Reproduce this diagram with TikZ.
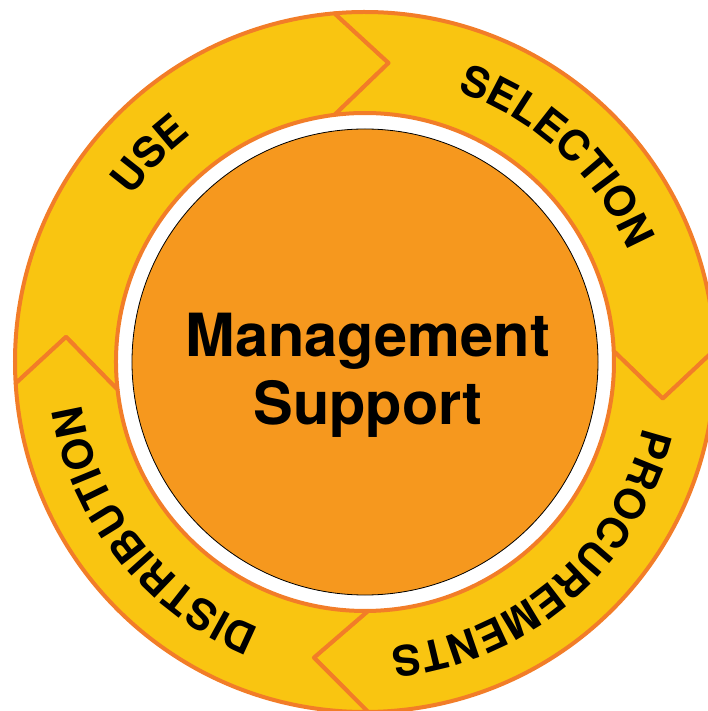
\documentclass[tikz,border=0pt]{standalone}
\usepackage{fontspec}
\setmainfont{TeX Gyre Heros}
\usetikzlibrary{decorations.text}
\definecolor{ringyellow}{RGB}{249,197,17}
\definecolor{ringorange}{RGB}{242,125,40}
\definecolor{coreorange}{RGB}{246,152,30}
\tikzset{
  arrowseg/.style={fill=ringyellow,draw=ringorange,line width=4pt,line join=round},
  corecircle/.style={circle,fill=coreorange,draw=black,line width=0.8pt,minimum size=466pt,inner sep=0pt},
  coretext/.style={font=\fontsize{59.5}{68}\selectfont\bfseries,anchor=base,inner sep=0pt},
}
\newcommand{\ringfont}{\fontsize{42}{42}\selectfont\bfseries}
\begin{document}
\begin{tikzpicture}
\useasboundingbox (-365pt,-349pt) rectangle (342pt,362pt);
% USE: tail at left junction, head at top junction
\filldraw[arrowseg] (183.5:350pt) arc[start angle=183.5,end angle=95,radius=350pt]
  -- (85.5:300pt) -- (97:249pt) arc[start angle=97,end angle=186.4,radius=249pt]
  -- (175.2:300pt) -- cycle;
% SELECTION
\filldraw[arrowseg] (95:350pt) arc[start angle=95,end angle=2,radius=350pt]
  -- (-7:300pt) -- (2.5:249pt) arc[start angle=2.5,end angle=97,radius=249pt]
  -- (85.5:300pt) -- cycle;
% PROCUREMENTS
\filldraw[arrowseg] (2:350pt) arc[start angle=2,end angle=-89.5,radius=350pt]
  -- (-99.8:300pt) -- (-89.3:249pt) arc[start angle=-89.3,end angle=2.5,radius=249pt]
  -- (-7:300pt) -- cycle;
% DISTRIBUTION
\filldraw[arrowseg] (-89.5:350pt) arc[start angle=-89.5,end angle=-176.5,radius=350pt]
  -- (-184.8:300pt) -- (-173.6:249pt) arc[start angle=-173.6,end angle=-89.3,radius=249pt]
  -- (-99.8:300pt) -- cycle;
% centre
\node[corecircle] (core) at (0pt,0pt) {};
\node[coretext] (mgmt) at (3pt,5pt) {Management};
\node[coretext] (supp) at (3pt,-63pt) {Support};
% ring labels
\path[decorate,decoration={text along path,text align=center,text={|\ringfont|USE}}]
  (176:286pt) arc[start angle=176,end angle=96,radius=286pt];
\path[decorate,decoration={text along path,text align=center,text={|\ringfont|SELECTION}}]
  (87:286pt) arc[start angle=87,end angle=7,radius=286pt];
\path[decorate,decoration={text along path,text align=center,text={|\ringfont|PROCUREMENTS}}]
  (-3:286pt) arc[start angle=-3,end angle=-95,radius=286pt];
\path[decorate,decoration={text along path,text align=center,text={|\ringfont|DISTRIBUTION}}]
  (-96:286pt) arc[start angle=-96,end angle=-187,radius=286pt];
\end{tikzpicture}
\end{document}
